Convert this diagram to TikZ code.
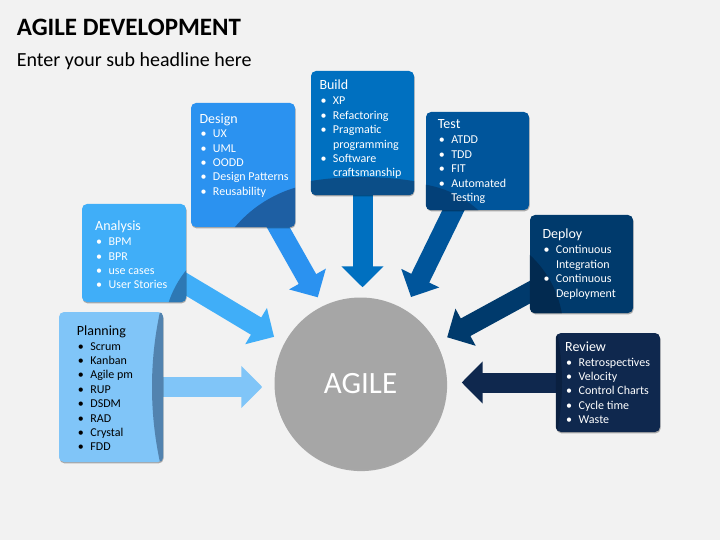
\documentclass[tikz,border=0pt]{standalone}
\usepackage{fontspec}
\setmainfont{Carlito}
\usepackage{xcolor}
\usetikzlibrary{arrows.meta, shadows}
\pgfdeclarelayer{background}
\pgfdeclarelayer{arrowlayer}
\pgfsetlayers{background,arrowlayer,main}

\definecolor{bgc}{HTML}{F2F2F2}
\definecolor{plancol}{HTML}{80C5F8}
\definecolor{plandark}{HTML}{5283AF}
\definecolor{anacol}{HTML}{40AEF8}
\definecolor{anadark}{HTML}{2D78B4}
\definecolor{descol}{HTML}{2B92F0}
\definecolor{desdark}{HTML}{1E5FA3}
\definecolor{buildcol}{HTML}{0070C0}
\definecolor{builddark}{HTML}{0B4E88}
\definecolor{testcol}{HTML}{00559B}
\definecolor{testdark}{HTML}{034078}
\definecolor{depcol}{HTML}{003A6C}
\definecolor{depdark}{HTML}{022A50}
\definecolor{revcol}{HTML}{0F284E}
\definecolor{revdark}{HTML}{0A2040}
\definecolor{agilecol}{HTML}{A6A6A6}

\newcommand{\bitem}{\makebox[13.5pt][l]{\hspace{1pt}\textbullet}}
\newcommand{\bcont}{\hspace*{13.5pt}}
\newcommand{\bhead}[1]{{\fontsize{14}{14.4}\selectfont #1}}

\begin{document}
\begin{tikzpicture}[x=1pt, y=-1pt, % pixel grid, y down
    box/.style={rectangle, rounded corners=5pt, minimum width=104pt, inner sep=0pt,
        drop shadow={shadow xshift=0.6pt, shadow yshift=-1.4pt, opacity=0.3, fill=black}},
    boxtxt/.style={anchor=base west, inner sep=0pt, text=white, font=\fontsize{12}{14.4}\selectfont},
    flow/.style={line width=20pt, -{Triangle[length=21pt, width=41pt]}}]

    \useasboundingbox (0,0) rectangle (720,540);
    \begin{pgfonlayer}{background}
        \fill[bgc] (0,0) rectangle (720,540);
    \end{pgfonlayer}

    % headline
    \node[anchor=base west, inner sep=0pt, font=\fontsize{25}{30}\selectfont\bfseries] (title) at (16.7,36) {AGILE DEVELOPMENT};
    \node[anchor=base west, inner sep=0pt, font=\fontsize{20}{24}\selectfont] (subtitle) at (16.7,66.7) {Enter your sub headline here};

    % centre
    \node[circle, minimum size=172pt, inner sep=0pt, fill=agilecol, text=white, font=\fontsize{31}{36}\selectfont,
        drop shadow={shadow xshift=0.6pt, shadow yshift=-1.6pt, opacity=0.3, fill=black}] (agile) at (360.5,383.5) {AGILE};

    % boxes
    \node[box, fill=plancol, minimum height=150pt] (plan) at (111,387) {};
    \begin{scope}
        \clip[rounded corners=5pt] (plan.south west) rectangle (plan.north east);
        \fill[plandark] (507.6,387) circle[radius=355.6pt];
    \end{scope}
    \node[boxtxt, text=black] (plan-txt) at (76.7,335) {\begin{tabular}[t]{@{}l@{}}
        \bhead{Planning}\\[0.6pt] \bitem Scrum\\ \bitem Kanban\\ \bitem Agile pm\\ \bitem RUP\\
        \bitem DSDM\\ \bitem RAD\\ \bitem Crystal\\ \bitem FDD\end{tabular}};

    \node[box, fill=anacol, minimum height=98pt] (ana) at (134,253) {};
    \begin{scope}
        \clip[rounded corners=5pt] (ana.south west) rectangle (ana.north east);
        \fill[anadark] (265,334) circle[radius=101.4pt];
    \end{scope}
    \node[boxtxt] (ana-txt) at (95,230.7) {\begin{tabular}[t]{@{}l@{}}
        \bhead{Analysis}\\[0.6pt] \bitem BPM\\ \bitem BPR\\ \bitem use cases\\ \bitem User Stories\end{tabular}};

    \node[box, fill=descol, minimum height=124pt] (des) at (243,165) {};
    \begin{scope}
        \clip[rounded corners=5pt] (des.south west) rectangle (des.north east);
        \fill[desdark] (330.6,307.6) circle[radius=125pt];
    \end{scope}
    \node[boxtxt] (des-txt) at (199.3,123.3) {\begin{tabular}[t]{@{}l@{}}
        \bhead{Design}\\ \bitem UX\\ \bitem UML\\ \bitem OODD\\ \bitem Design Patterns\\ \bitem Reusability\end{tabular}};

    \node[box, fill=buildcol, minimum width=103pt, minimum height=124pt] (build) at (362.5,133) {};
    \begin{scope}
        \clip[rounded corners=5pt] (build.south west) rectangle (build.north east);
        \fill[builddark] (362,504) circle[radius=327pt];
    \end{scope}
    \node[boxtxt] (build-txt) at (319.3,90) {\begin{tabular}[t]{@{}l@{}}
        \bhead{Build}\\[0.6pt] \bitem XP\\ \bitem Refactoring\\ \bitem Pragmatic\\ \bcont programming\\
        \bitem Software\\ \bcont craftsmanship\end{tabular}};

    \node[box, fill=testcol, minimum width=103pt, minimum height=98pt] (test) at (477.5,161) {};
    \begin{scope}
        \clip[rounded corners=5pt] (test.south west) rectangle (test.north east);
        \fill[testdark] (408.5,287.3) circle[radius=104pt];
    \end{scope}
    \node[boxtxt] (test-txt) at (437.7,129) {\begin{tabular}[t]{@{}l@{}}
        \bhead{Test}\\[0.6pt] \bitem ATDD\\ \bitem TDD\\ \bitem FIT\\ \bitem Automated\\ \bcont Testing\end{tabular}};

    \node[box, fill=depcol, minimum width=103pt, minimum height=98pt] (dep) at (581.5,264) {};
    \begin{scope}
        \clip[rounded corners=5pt] (dep.south west) rectangle (dep.north east);
        \fill[depdark] (458.6,331.9) circle[radius=104.9pt];
    \end{scope}
    \node[boxtxt] (dep-txt) at (542.3,239) {\begin{tabular}[t]{@{}l@{}}
        \bhead{Deploy}\\[0.6pt] \bitem Continuous\\ \bcont Integration\\ \bitem Continuous\\ \bcont Deployment\end{tabular}};

    \node[box, fill=revcol, minimum height=99pt] (rev) at (608,382.5) {};
    \begin{scope}
        \clip[rounded corners=5pt] (rev.south west) rectangle (rev.north east);
        \fill[revdark] (314.5,382.5) circle[radius=247.5pt];
    \end{scope}
    \node[boxtxt] (rev-txt) at (565,351) {\begin{tabular}[t]{@{}l@{}}
        \bhead{Review}\\[0.6pt] \bitem Retrospectives\\ \bitem Velocity\\ \bitem Control Charts\\ \bitem Cycle time\\ \bitem Waste\end{tabular}};

    % arrows into the circle, under the boxes
    \begin{pgfonlayer}{arrowlayer}
        \draw[flow, plancol, shorten >=12pt] (plan.center) -- (plan.center -| agile.west);
        \draw[flow, anacol, shorten >=12pt] (ana.center) -- (agile.152);
        \draw[flow, descol, shorten >=10pt] (des.center) -- (agile.116);
        \draw[flow, buildcol, shorten >=10pt] (build.center) -- (build.center |- agile.north);
        \draw[flow, testcol, shorten >=14pt] (test.center) -- (agile.59);
        \draw[flow, depcol, shorten >=12pt] (dep.center) -- (agile.28);
        \draw[flow, revcol, shorten >=15pt] (rev.center) -- (rev.center -| agile.east);
    \end{pgfonlayer}
\end{tikzpicture}
\end{document}
